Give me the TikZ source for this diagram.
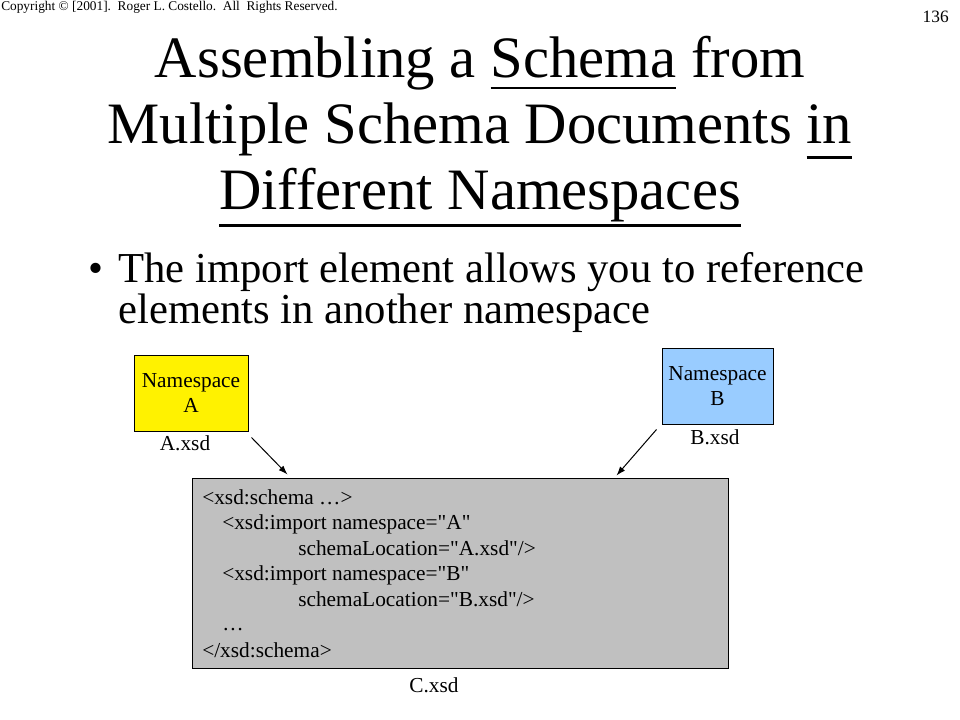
\documentclass[tikz,border=0pt]{standalone}
\usepackage{fontspec}
\setmainfont{Liberation Serif}[Ligatures=TeXOff]
\usepackage{tikz}
\usetikzlibrary{arrows.meta}
\definecolor{nsblue}{HTML}{99CCFF}
\definecolor{codegray}{HTML}{C0C0C0}
\tikzstyle{arrow}=[draw=black, line width=0.75pt, -{Latex[length=2.4mm, width=1.7mm]}]
\tikzstyle{titleline}=[anchor=base, inner sep=0pt, font=\fontsize{44}{50}\selectfont]
\tikzstyle{bulletline}=[anchor=base west, inner sep=0pt, font=\fontsize{32}{30}\selectfont]
\tikzstyle{nsbox}=[draw=black, line width=0.75pt, minimum height=57pt, align=center, inner sep=0pt, font=\fontsize{16}{18.75}\selectfont]
\tikzstyle{filelabel}=[anchor=base, inner sep=0pt, font=\fontsize{16}{19}\selectfont]
\tikzstyle{codeline}=[anchor=base west, inner sep=0pt, font=\fontsize{16}{19}\selectfont]
\newcommand{\undl}[2][8.6pt]{\sbox0{#2}\rlap{\rule[-#1]{\wd0}{2.2pt}}\usebox0}

\begin{document}
\begin{tikzpicture}[x=0.75pt, y=-0.75pt]
	\useasboundingbox (0,0) rectangle (960,720);
	\begin{scope}
		% header and title
		\node (copy) at (1,11)[anchor=base west, inner sep=0pt, font=\fontsize{10}{12}\selectfont] {Copyright \textcopyright{} [2001].\ \ Roger L. Costello.\ \ All\ \ Rights Reserved.};
		\node (page) at (949,23)[anchor=base east, inner sep=0pt, font=\fontsize{13}{15}\selectfont] {136};
		\node (title1) at (480,78)[titleline] {Assembling a \undl{Schema} from};
		\node (title2) at (480,144)[titleline] {Multiple Schema Documents \undl[10.9pt]{in}};
		\node (title3) at (480,210)[titleline] {\undl[12.6pt]{Different Namespaces}};
		\node (dot) at (96,283)[anchor=base, inner sep=0pt, font=\fontsize{32}{30}\selectfont] {\textbullet};
		\node (text1) at (118,283)[bulletline] {The import element allows you to reference};
		\node (text2) at (118,323)[bulletline] {elements in another namespace};
	\end{scope}
	\begin{scope}
		% schema documents
		\node (nsA) at (191,393)[nsbox, fill=yellow, minimum width=85.5pt] {Namespace\\A};
		\node (nsB) at (717.5,386)[nsbox, fill=nsblue, minimum width=83.25pt] {Namespace\\B};
		\node (schemaC) at (460,573)[draw=black, line width=0.75pt, fill=codegray, minimum width=402pt, minimum height=142.5pt] {};
		\node (labA) at (185,450)[filelabel] {A.xsd};
		\node (labB) at (715,444)[filelabel] {B.xsd};
		\node (labC) at (434,692)[filelabel] {C.xsd};
		\node (code1) at (202,504)[codeline] {<xsd:schema \dots>};
		\node (code2) at (222,529.5)[codeline] {<xsd:import namespace="A"};
		\node (code3) at (298,555)[codeline] {schemaLocation="A.xsd"/>};
		\node (code4) at (222,580.5)[codeline] {<xsd:import namespace="B"};
		\node (code5) at (298,606)[codeline] {schemaLocation="B.xsd"/>};
		\node (code6) at (222,630)[codeline] {\dots};
		\node (code7) at (202,657)[codeline] {</xsd:schema>};
	\end{scope}
	\begin{scope}
		\path ([shift={(3,6)}]nsA.south east) edge[arrow] ([shift={(96,-3)}]schemaC.north west);
		\path ([shift={(-5,5)}]nsB.south west) edge[arrow] ([shift={(-112,-2)}]schemaC.north east);
	\end{scope}
\end{tikzpicture}
\end{document}
